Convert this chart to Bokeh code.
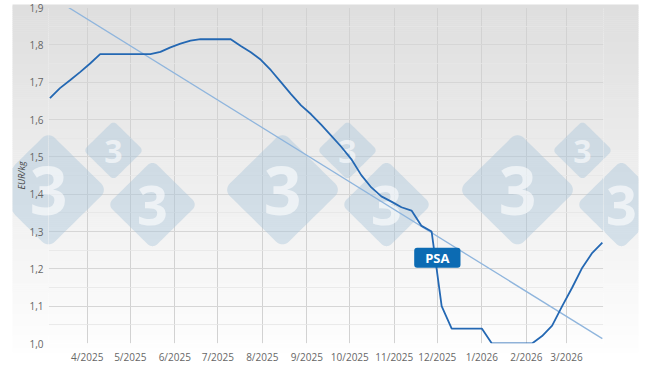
import numpy as np
from datetime import datetime, timedelta
from bokeh.plotting import figure
from bokeh.models import (Range1d, FixedTicker, CustomJSTickFormatter, Label,
                          ColumnDataSource)
from bokeh.core.properties import value
from bokeh.embed import file_html
from bokeh.resources import INLINE

EPOCH = datetime(1970, 1, 1)


def ms(d):
    return (d - EPOCH).total_seconds() * 1000.0


# ---------------- data ----------------
first_week = datetime(2025, 3, 6)
prices = [1.657, 1.684, 1.705, 1.727, 1.750, 1.775, 1.775, 1.775, 1.775, 1.775,
          1.775, 1.781, 1.793, 1.803, 1.811, 1.815, 1.815, 1.815, 1.815, 1.797,
          1.780, 1.760, 1.732, 1.700, 1.668, 1.638, 1.614, 1.586, 1.557, 1.527,
          1.494, 1.451, 1.418, 1.394, 1.380, 1.365, 1.356, 1.315, 1.300, 1.100,
          1.040, 1.040, 1.040, 1.040, 1.000, 1.000, 1.000, 1.000, 1.000, 1.020,
          1.048, 1.100, 1.150, 1.203, 1.243, 1.270]
week_dates = [first_week + timedelta(days=7 * i) for i in range(len(prices))]
trend_values = [1.931, 1.013]          # linear trend at first / last week
y_ticks = [1.0, 1.1, 1.2, 1.3, 1.4, 1.5, 1.6, 1.7, 1.8, 1.9]
month_ticks = [datetime(2025, m, 1) for m in range(4, 13)] + \
              [datetime(2026, m, 1) for m in range(1, 4)]
series_label = "PSA"
label_date = datetime(2025, 12, 1)
label_value = 1.23
y_title = "EUR/kg"

# ---------------- figure ----------------
FL, FR, FT, FB = 48, 603, 7, 348   # frame in canvas pixels
X0 = ms(datetime(2025, 3, 5))
X1 = X0 + 386.8 * 86400000.0
Y0, Y1 = 1.0, 1.9
p = figure(width=650, height=366, x_axis_type="datetime",
           output_backend="svg", toolbar_location=None,
           x_range=Range1d(X0, X1), y_range=Range1d(Y0, Y1),
           min_border_left=FL, min_border_right=650 - FR,
           min_border_top=FT, min_border_bottom=366 - FB)
p.background_fill_color = "white"
p.border_fill_color = "white"
p.outline_line_color = None


# decoration helpers: canvas pixel -> data space (for background artwork only)
def dx(px):
    return X0 + (np.asarray(px, dtype=float) - FL) / (FR - FL) * (X1 - X0)


def dy(py):
    return Y1 - (np.asarray(py, dtype=float) - FT) / (FB - FT) * (Y1 - Y0)


ordered = []

# ---- gradient panel ----
PX0, PX1, PY0, PY1 = 12, 638, 4, 357
edges = np.unique(np.concatenate([np.arange(PY0, PY1, 2.0), [FT, FB, PY1]]))
inner = dict(l=[], r=[], t=[], b=[], c=[])
outer = dict(l=[], r=[], t=[], b=[], c=[])


def grey(yc):
    t = (yc - PY0) / (PY1 - PY0)
    g = int(round(222 + (254 - 222) * t))
    return "#%02x%02x%02x" % (g, g, g)


for k in range(len(edges) - 1):
    a, b = edges[k], edges[k + 1]
    col = grey((a + b) / 2)
    inner["l"].append(PX0); inner["r"].append(PX1)
    inner["t"].append(a); inner["b"].append(b + 0.5); inner["c"].append(col)
    if a >= FT and b <= FB:
        spans = [(PX0, FL), (FR, PX1)]
    else:
        spans = [(PX0, PX1)]
    for (x_a, x_b) in spans:
        outer["l"].append(x_a); outer["r"].append(x_b)
        outer["t"].append(a); outer["b"].append(b + 0.5); outer["c"].append(col)

for d, lvl in ((inner, "image"), (outer, "guide")):
    src_g = ColumnDataSource(dict(left=dx(d["l"]), right=dx(d["r"]),
                                  top=dy(d["t"]), bottom=dy(d["b"]), color=d["c"]))
    ordered.append(p.quad(left="left", right="right", top="top", bottom="bottom",
                          source=src_g, fill_color="color", line_color=None,
                          level=lvl))

# ---- axes / grid ----
p.xaxis.ticker = FixedTicker(ticks=[ms(d) for d in month_ticks])
p.xaxis.formatter = CustomJSTickFormatter(code="""
    const d = new Date(tick);
    return (d.getUTCMonth() + 1) + '/' + d.getUTCFullYear();
""")
p.yaxis.ticker = FixedTicker(ticks=y_ticks,
                             minor_ticks=[v + 0.05 for v in y_ticks[:-1]])
p.yaxis.formatter = CustomJSTickFormatter(code="return tick.toFixed(1).replace('.', ',');")
for ax in (p.xaxis, p.yaxis):
    ax.axis_line_color = None
    ax.major_tick_line_color = None
    ax.minor_tick_line_color = None
    ax.major_tick_out = 0
    ax.major_tick_in = 0
    ax.minor_tick_out = 0
    ax.minor_tick_in = 0
    ax.major_label_text_font = "Open Sans"
    ax.major_label_text_font_size = "10px"
    ax.major_label_text_color = "#666666"
    ax.level = "overlay"
p.xaxis.major_label_standoff = 6
p.yaxis.major_label_standoff = 5
p.yaxis.axis_label = y_title
p.yaxis.axis_label_text_font = "Open Sans"
p.yaxis.axis_label_text_font_size = "9px"
p.yaxis.axis_label_text_font_style = "italic"
p.yaxis.axis_label_text_color = "#444444"
p.yaxis.axis_label_standoff = -2

p.xgrid.grid_line_color = "#d2d2d2"
p.ygrid.grid_line_color = "#d6d6d6"
p.ygrid.minor_grid_line_color = "#e6e6e6"
p.ygrid.minor_grid_line_alpha = 0.8
grids = list(p.center)
ordered += grids


# ---- watermark diamonds ----
def rounded_diamond(cx, cy, r, rc):
    s = r * np.sqrt(2)
    h = s / 2 - rc
    pts = []
    for (ax_, ay_, a0) in [(1, 1, 0), (-1, 1, 90), (-1, -1, 180), (1, -1, 270)]:
        for a in np.linspace(a0, a0 + 90, 12):
            ar = np.radians(a)
            pts.append((ax_ * h + rc * np.cos(ar), ay_ * h + rc * np.sin(ar)))
    pts.append(pts[0])
    dense = []
    for i in range(len(pts) - 1):
        for t in np.linspace(0, 1, 12, endpoint=False):
            dense.append((pts[i][0] * (1 - t) + pts[i + 1][0] * t,
                          pts[i][1] * (1 - t) + pts[i + 1][1] * t))
    dense = np.array(dense)
    c45 = np.cos(np.pi / 4)
    xs = cx + (dense[:, 0] - dense[:, 1]) * c45
    ys = cy + (dense[:, 0] + dense[:, 1]) * c45
    return xs, ys


marks = [(48, 192, 59, 66), (113, 152, 30, 32), (152, 207, 45, 54)]
in_xs, in_ys, out_xs, out_ys = [], [], [], []
txt_in = dict(x=[], y=[], t=[], fs=[])
txt_out = dict(x=[], y=[], t=[], fs=[])
for off in (0, 234, 469):
    for (cx, cy, r, fs) in marks:
        xs, ys = rounded_diamond(cx + off, cy, r, r * 0.15)
        in_xs.append(list(dx(np.clip(xs, FL, FR))))
        in_ys.append(list(dy(ys)))
        if xs.min() < FL:
            out_xs.append(list(dx(np.clip(xs, PX0, FL))))
            out_ys.append(list(dy(ys)))
        if xs.max() > FR:
            out_xs.append(list(dx(np.clip(xs, FR, PX1))))
            out_ys.append(list(dy(ys)))
        half = fs * 0.3
        tgt = txt_out if (cx + off - half < FL or cx + off + half > FR) else txt_in
        tgt["x"].append(float(dx(cx + off))); tgt["y"].append(float(dy(cy + 1)))
        tgt["t"].append("3"); tgt["fs"].append(f"{fs}px")

for xs_l, ys_l, lvl in ((in_xs, in_ys, "underlay"), (out_xs, out_ys, "guide")):
    ordered.append(p.patches(xs_l, ys_l, fill_color="#a8c4d9", fill_alpha=0.42,
                             line_color=None, level=lvl))
for d, lvl in ((txt_in, "underlay"), (txt_out, "guide")):
    ordered.append(p.text(x="x", y="y", text="t", source=ColumnDataSource(d),
                          text_font_size="fs", text_font=value("Open Sans"),
                          text_font_style="bold", text_color="white",
                          text_alpha=0.6, text_align="center",
                          text_baseline="middle", level=lvl))

# ---- data lines ----
src = ColumnDataSource(dict(x=[ms(d) for d in week_dates], y=prices))
r_trend = p.line([ms(week_dates[0]), ms(week_dates[-1])], trend_values,
                 line_color="#8fb5dd", line_width=1.3)
r_main = p.line("x", "y", source=src, line_color="#2468b3", line_width=1.8)
ordered += [r_trend, r_main]

ordered.append(Label(x=ms(label_date), y=label_value, text=series_label,
                     text_align="center", text_baseline="middle",
                     text_font="Open Sans", text_font_style="bold",
                     text_font_size="13px", text_color="white",
                     background_fill_color="#0c6bb3", padding=(11, 1),
                     border_radius=3))

p.center = []
p.renderers = ordered

open("out.html", "w").write(file_html(p, INLINE))
